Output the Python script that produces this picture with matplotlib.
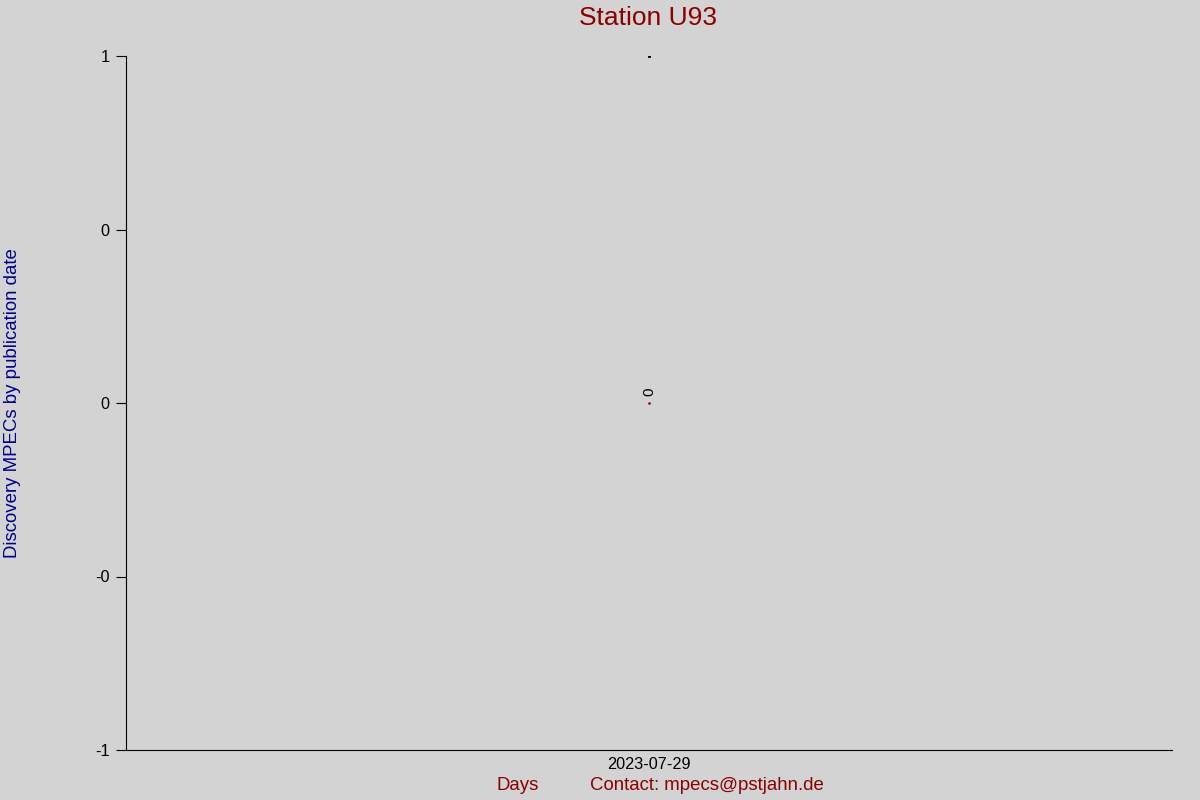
import numpy as np
import pandas as pd
import matplotlib
matplotlib.use('Agg')
import matplotlib.pyplot as plt
import matplotlib.dates as mdates
from matplotlib.ticker import FormatStrFormatter

plt.rcParams['font.family'] = ['Liberation Sans', 'DejaVu Sans']

# data
dates = pd.to_datetime(['2023-07-29'])
counts = [0]
top_marks = [1]
yticks = [1, 0.5, 0, -0.5, -1]

bg = '#d3d3d3'
fig = plt.figure(figsize=(12, 8), dpi=100, facecolor=bg)
ax = fig.add_axes([0.105, 0.0625, 0.872, 0.8675], facecolor=bg)

ax.plot(dates, counts, linestyle='none', marker='s', markersize=0.8, color='#8b0000')
ax.plot(dates, top_marks, linestyle='none', marker='s', markersize=1.2, color='black')
for d, c in zip(dates, counts):
    ax.annotate(str(c), (mdates.date2num(d), c), xytext=(0, 5), textcoords='offset points',
                rotation=90, ha='center', va='bottom', fontsize=11)

x0 = mdates.date2num(dates[0])
ax.set_xlim(x0 - 1, x0 + 1)
ax.set_ylim(-1, 1)
ax.set_xticks([x0])
ax.set_xticklabels([d.strftime('%Y-%m-%d') for d in dates])
ax.set_yticks(yticks)
ax.yaxis.set_major_formatter(FormatStrFormatter('%.0f'))
ax.tick_params(axis='x', length=0, labelsize=11.7, pad=5)
ax.tick_params(axis='y', length=7, labelsize=11.7, pad=5)
for s in ['top', 'right']:
    ax.spines[s].set_visible(False)

fig.text(0.54, 0.977, 'Station U93', ha='center', va='center', fontsize=19, color='#8b0000')
ax.set_ylabel('Discovery MPECs by publication date', color='#00008b', fontsize=13.4, labelpad=0)
ax.yaxis.set_label_coords(-0.1, 0.5)
fig.text(0.431, 0.0175, 'Days', ha='center', va='center', fontsize=13.4, color='#8b0000')
fig.text(0.492, 0.0175, 'Contact: mpecs@pstjahn.de', ha='left', va='center', fontsize=13.4, color='#8b0000')

fig.savefig('out.png', dpi=100, facecolor=bg)
